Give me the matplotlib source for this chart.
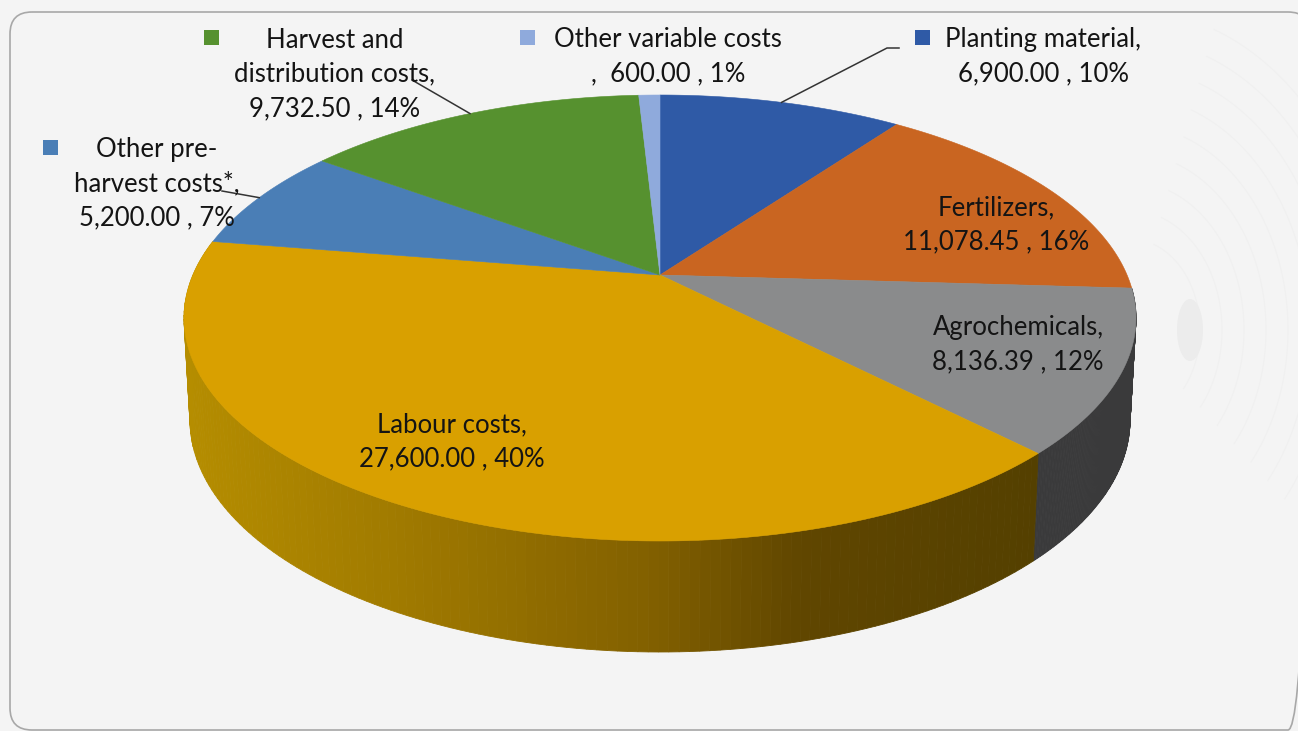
import numpy as np
import matplotlib
matplotlib.use("Agg")
import matplotlib.pyplot as plt
from matplotlib.patches import Ellipse, FancyBboxPatch, Rectangle

categories = ["Planting material", "Fertilizers", "Agrochemicals", "Labour costs",
              "Other pre-harvest costs*", "Harvest and distribution costs", "Other variable costs"]
costs = [6900.00, 11078.45, 8136.39, 27600.00, 5200.00, 9732.50, 600.00]
percents = [10, 16, 12, 40, 7, 14, 1]
top_colors = ["#2F5AA6", "#C96521", "#8A8B8C", "#D9A000", "#4A7EB6", "#56912F", "#8FAADC"]

# wall shade of the labour slice, left to right
wall_x = [185, 400, 650, 800, 1040]
wall_r = [181, 160, 130, 96, 84]
wall_g = [141, 122, 96, 70, 64]
wall_b = [0, 0, 0, 0, 0]

BG = "#F4F4F4"
TILT = -0.193  # moves the pie centre towards the far edge


def rim(theta, cx, cy, rx, ry):
    # point on a tilted disc, theta in degrees clockwise from 12 o'clock
    t = np.radians(theta)
    u, v = np.sin(t), -np.cos(t)
    d = 1 + TILT * v
    return (cx + rx * u * np.sqrt(1 - TILT ** 2) / d,
            cy + ry * (v + TILT) / d)


def top_rim(theta):
    return rim(theta, 660, 318, 476, 223)


def low_rim(theta):
    return rim(theta, 660, 420, 470, 232)


fig = plt.figure(figsize=(12.98, 7.31), dpi=100, facecolor=BG)
ax = fig.add_axes([0, 0, 1, 1])
ax.set_xlim(0, 1298)
ax.set_ylim(731, 0)
ax.axis("off")

# faint marble veins on the backdrop
for r in range(70, 260, 22):
    a = np.radians(np.linspace(-70, 40, 80))
    ax.plot(1130 + r * np.cos(a), 330 + 1.3 * r * np.sin(a), color="#F0F0F0", lw=0.8, zorder=0)
ax.add_patch(Ellipse((1190, 330), 26, 62, fc="#ECECEC", ec="none", zorder=0))

ax.add_patch(FancyBboxPatch((10, 12), 1300, 718, boxstyle="round,pad=0,rounding_size=22",
                            fc="none", ec="#A8A8A8", lw=1.2, zorder=1))

edges = 360 * np.cumsum([0] + costs) / sum(costs)
mids = (edges[:-1] + edges[1:]) / 2

# agrochemicals and labour are the slices with a visible outer wall
for i in (2, 3):
    angles = np.linspace(edges[i], edges[i + 1], 140)
    for a0, a1 in zip(angles[:-1], angles[1:]):
        x0, y0 = top_rim(a0)
        x1, y1 = top_rim(a1)
        x2, y2 = low_rim(a1)
        x3, y3 = low_rim(a0)
        if i == 2:
            c = "#3A3A3B"
        else:
            xm = (x0 + x1) / 2
            c = (np.interp(xm, wall_x, wall_r) / 255,
                 np.interp(xm, wall_x, wall_g) / 255,
                 np.interp(xm, wall_x, wall_b) / 255)
        ax.fill([x0, x1, x2, x3], [y0, y1, y2, y3], color=c, lw=0.6, zorder=2)

for i, col in enumerate(top_colors):
    xs, ys = top_rim(np.linspace(edges[i], edges[i + 1], 150))
    ax.fill(np.r_[660, xs], np.r_[275, ys], color=col, lw=0.4, zorder=3)

# leader lines from the rim of the outside slices
rx, ry = top_rim(mids[0])
ax.plot([rx, 887, 899], [ry, 48, 48], color="#333333", lw=1.1, zorder=4)
rx, ry = top_rim(mids[5])
ax.plot([rx, 412], [ry, 80], color="#333333", lw=1.1, zorder=4)
rx, ry = top_rim(mids[4])
ax.plot([rx, 222], [ry, 191], color="#333333", lw=1.1, zorder=4)

values = [f"{c:,.2f} , {p}%" for c, p in zip(costs, percents)]
label_lines = [
    ["Planting material,", values[0]],
    ["Fertilizers,", values[1]],
    ["Agrochemicals,", values[2]],
    ["Labour costs,", values[3]],
    ["Other pre-", "harvest costs*,", values[4]],
    ["Harvest and", "distribution costs,", values[5]],
    ["Other variable costs", ",  " + values[6]],
]
label_pos = [(1043, 47), (996, 215), (1018, 335), (452, 432), (157, 157), (335, 47.5), (668, 47)]

for lines, (x, y) in zip(label_lines, label_pos):
    for k, line in enumerate(lines):
        ax.text(x, y + 34.3 * k, line, ha="center", va="baseline", family="Lato",
                fontsize=18.5, color="#141414", zorder=6)

# legend keys beside the outside labels
for i, (x, y) in {0: (922, 37), 6: (527, 37), 5: (211, 37), 4: (50, 147)}.items():
    ax.add_patch(Rectangle((x - 7.5, y - 7.5), 15, 15, fc=top_colors[i], ec="none", zorder=5))

fig.savefig("out.png", dpi=100, facecolor=BG)
